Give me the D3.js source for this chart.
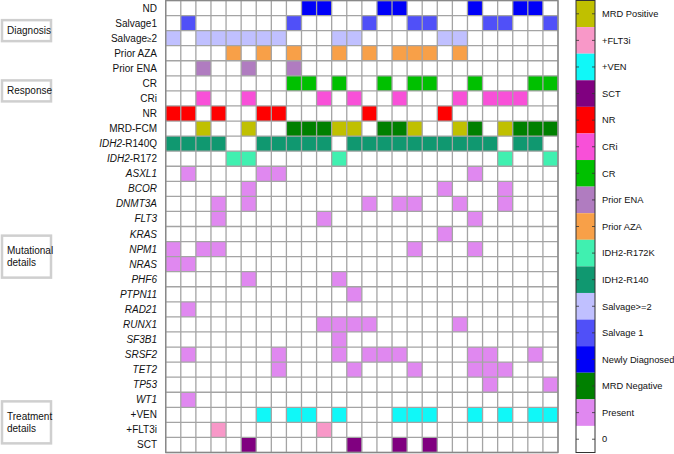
<!DOCTYPE html>
<html>
<head>
<meta charset="utf-8">
<script src="https://cdn.jsdelivr.net/npm/d3@7"></script>
<style>
  body { margin: 0; background: #fff; }
  svg { font-family: "Liberation Sans", Arial, sans-serif; }
</style>
</head>
<body>
<div id="chart"></div>
<script>
// patients (columns)
const nPatients = 26;

// rows, top to bottom
const rowNames = ["ND", "Salvage1", "Salvage≥2", "Prior AZA", "Prior ENA", "CR", "CRi", "NR", "MRD-FCM",
  "IDH2-R140Q", "IDH2-R172", "ASXL1", "BCOR", "DNMT3A", "FLT3", "KRAS", "NPM1", "NRAS", "PHF6", "PTPN11",
  "RAD21", "RUNX1", "SF3B1", "SRSF2", "TET2", "TP53", "WT1", "+VEN", "+FLT3i", "SCT"];
const geneRows = ["ASXL1", "BCOR", "DNMT3A", "FLT3", "KRAS", "NPM1", "NRAS", "PHF6", "PTPN11",
  "RAD21", "RUNX1", "SF3B1", "SRSF2", "TET2", "TP53", "WT1"];

// legend categories, top to bottom
const categories = ["MRD Positive", "+FLT3i", "+VEN", "SCT", "NR", "CRi", "CR", "Prior ENA", "Prior AZA",
  "IDH2-R172K", "IDH2-R140", "Salvage>=2", "Salvage 1", "Newly Diagnosed", "MRD Negative", "Present", "0"];
const catColors = ["#c0c000", "#f898c8", "#10f8f8", "#800080", "#ff0000", "#f850d8", "#00c000", "#b07cc0",
  "#f8a048", "#40f0b0", "#109870", "#c0c0ff", "#5050f8", "#0000f8", "#008000", "#e088f0", "#ffffff"];

// patient indexes that are filled in each row
const ndCols = [9, 10, 14, 15, 20, 23, 24];
const salv1Cols = [1, 8, 13, 16, 17, 21, 22, 25];
const salv2Cols = [0, 2, 3, 4, 5, 6, 7, 11, 12, 18, 19];
const azaCols = [4, 6, 8, 11, 13, 15, 16, 17, 19];
const enaCols = [2, 5, 8];
const crCols = [8, 9, 11, 14, 16, 17, 20, 24, 25];
const criCols = [2, 5, 10, 12, 15, 19, 21, 22, 23];
const nrCols = [0, 1, 3, 6, 7, 13, 18];
const mrdPosCols = [2, 5, 11, 12, 16, 19, 22];
const mrdNegCols = [8, 9, 10, 14, 15, 20, 23, 24, 25];
const r140Cols = [0, 1, 2, 3, 6, 7, 8, 9, 10, 12, 13, 14, 15, 16, 17, 18, 19, 20, 21, 23, 24];
const r172Cols = [4, 5, 11, 22, 25];
const asxl1 = [1, 6, 7, 20];
const bcor = [5, 18, 22];
const dnmt3a = [3, 5, 13, 15, 16, 19, 22];
const flt3 = [3, 10, 20];
const kras = [18];
const npm1 = [0, 2, 3, 16, 20];
const nras = [0, 1];
const phf6 = [5, 11];
const ptpn11 = [12];
const rad21 = [1];
const runx1 = [10, 11, 12, 13, 19];
const sf3b1 = [11];
const srsf2 = [1, 7, 11, 13, 14, 15, 20, 21, 24];
const tet2 = [7, 12, 16, 20, 21, 22];
const tp53 = [21, 25];
const wt1 = [1];
const venCols = [6, 8, 9, 11, 15, 16, 17, 20, 22, 24, 25];
const flt3iCols = [3, 10];
const sctCols = [5, 12, 15, 17];

const groups = [
  { lines: ["Diagnosis"], from: "Salvage1", to: "Salvage≥2" },
  { lines: ["Response"], from: "CR", to: "CRi" },
  { lines: ["Mutational", "details"], from: "NPM1", to: "NRAS" },
  { lines: ["Treatment", "details"], from: "+VEN", to: "+FLT3i" }
];

// table of filled cells: [row, patient, category]
const fills = [];
function add(row, cols, cat) { cols.forEach(c => fills.push({ row, col: c, cat })); }
add("ND", ndCols, "Newly Diagnosed");
add("Salvage1", salv1Cols, "Salvage 1");
add("Salvage≥2", salv2Cols, "Salvage>=2");
add("Prior AZA", azaCols, "Prior AZA");
add("Prior ENA", enaCols, "Prior ENA");
add("CR", crCols, "CR");
add("CRi", criCols, "CRi");
add("NR", nrCols, "NR");
add("MRD-FCM", mrdPosCols, "MRD Positive");
add("MRD-FCM", mrdNegCols, "MRD Negative");
add("IDH2-R140Q", r140Cols, "IDH2-R140");
add("IDH2-R172", r172Cols, "IDH2-R172K");
[asxl1, bcor, dnmt3a, flt3, kras, npm1, nras, phf6, ptpn11, rad21, runx1, sf3b1, srsf2, tet2, tp53, wt1]
  .forEach((cols, i) => add(geneRows[i], cols, "Present"));
add("+VEN", venCols, "+VEN");
add("+FLT3i", flt3iCols, "+FLT3i");
add("SCT", sctCols, "SCT");

const width = 674, height = 454;
const svg = d3.select("#chart").append("svg")
  .attr("width", width)
  .attr("height", height);

const x = d3.scaleBand().domain(d3.range(nPatients)).range([165.7, 558]);
const y = d3.scaleBand().domain(rowNames).range([0.5, 452.5]);
const color = d3.scaleOrdinal().domain(categories).range(catColors);

// cell fills
svg.append("g").selectAll("rect")
  .data(fills)
  .enter().append("rect")
  .attr("x", d => x(d.col))
  .attr("y", d => y(d.row))
  .attr("width", x.bandwidth())
  .attr("height", y.bandwidth())
  .attr("fill", d => color(d.cat));

// grid lines
const grid = svg.append("g").attr("stroke", "#a4a4a4").attr("stroke-width", 1.3);
grid.selectAll(".v").data(d3.range(nPatients + 1)).enter().append("line")
  .attr("x1", d => x.range()[0] + d * x.step()).attr("x2", d => x.range()[0] + d * x.step())
  .attr("y1", y.range()[0]).attr("y2", y.range()[1]);
grid.selectAll(".h").data(d3.range(rowNames.length + 1)).enter().append("line")
  .attr("y1", d => y.range()[0] + d * y.step()).attr("y2", d => y.range()[0] + d * y.step())
  .attr("x1", x.range()[0]).attr("x2", x.range()[1]);
svg.append("rect")
  .attr("x", x.range()[0]).attr("y", y.range()[0])
  .attr("width", x.range()[1] - x.range()[0]).attr("height", y.range()[1] - y.range()[0])
  .attr("fill", "none").attr("stroke", "#888").attr("stroke-width", 1.3);

// row labels
const italicAll = new Set(geneRows);
const labels = svg.append("g").attr("font-size", 10).attr("fill", "#111").attr("text-anchor", "end");
rowNames.forEach(name => {
  const t = labels.append("text")
    .attr("x", 157)
    .attr("y", y(name) + y.bandwidth() / 2)
    .attr("dy", "0.35em");
  if (italicAll.has(name)) {
    t.attr("font-style", "italic").text(name);
  } else if (name.startsWith("IDH2")) {
    t.append("tspan").attr("font-style", "italic").text("IDH2");
    t.append("tspan").text(name.slice(4));
  } else if (name === "Salvage≥2") {
    t.append("tspan").text("Salvage");
    t.append("tspan").attr("font-size", 8).text("≥");
    t.append("tspan").text("2");
  } else {
    t.text(name);
  }
});

// group boxes
const gBox = svg.append("g");
groups.forEach(g => {
  const cy = (y(g.from) + y(g.to) + y.bandwidth()) / 2;
  const h = g.lines.length === 1 ? 21 : 42;
  gBox.append("rect")
    .attr("x", 2).attr("y", cy - h / 2)
    .attr("width", 49).attr("height", h)
    .attr("fill", "#fff").attr("stroke", "#cfcfcf").attr("stroke-width", 2.5);
  g.lines.forEach((ln, i) => {
    gBox.append("text")
      .attr("x", 7)
      .attr("y", cy + (i - (g.lines.length - 1) / 2) * 12)
      .attr("dy", "0.35em")
      .attr("font-size", 10).attr("fill", "#111")
      .text(ln);
  });
});

// colour bar legend
const ly = d3.scaleBand().domain(categories).range([0.5, 452.5]);
const leg = svg.append("g");
leg.selectAll("rect").data(categories).enter().append("rect")
  .attr("x", 576).attr("y", d => ly(d))
  .attr("width", 19).attr("height", ly.bandwidth())
  .attr("fill", d => color(d));
leg.append("rect")
  .attr("x", 576).attr("y", 0.5).attr("width", 19).attr("height", 452)
  .attr("fill", "none").attr("stroke", "#333").attr("stroke-width", 1);
categories.forEach(c => {
  const cy = ly(c) + ly.bandwidth() / 2;
  leg.append("line").attr("x1", 576).attr("x2", 579).attr("y1", cy).attr("y2", cy)
    .attr("stroke", "#333").attr("stroke-width", 0.8);
  leg.append("line").attr("x1", 592).attr("x2", 595).attr("y1", cy).attr("y2", cy)
    .attr("stroke", "#333").attr("stroke-width", 0.8);
  leg.append("text").attr("x", 602).attr("y", cy).attr("dy", "0.35em")
    .attr("font-size", 9.3).attr("fill", "#111").text(c);
});
</script>
</body>
</html>
